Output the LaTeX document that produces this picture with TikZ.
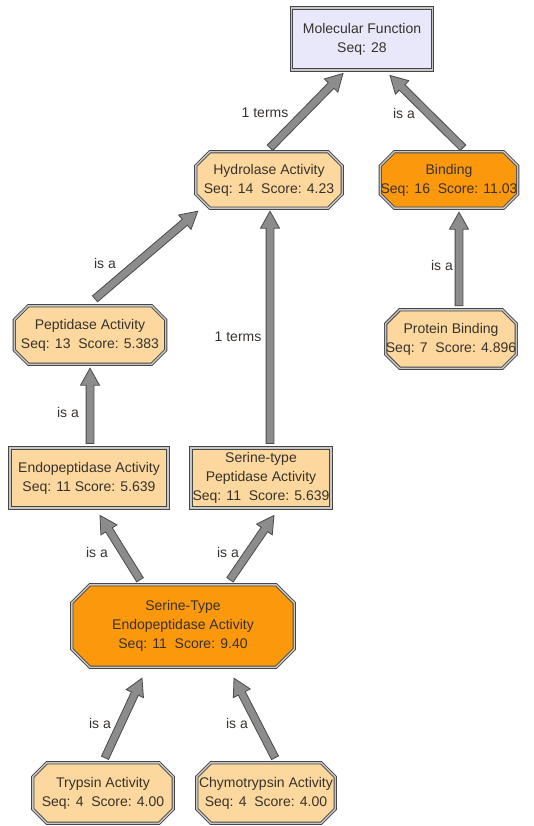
\documentclass[tikz,border=0pt]{standalone}
\usepackage{fontspec}
\setmainfont{Liberation Sans}
\usetikzlibrary{calc,backgrounds}
\definecolor{lightor}{RGB}{253,216,158}
\definecolor{darkor}{RGB}{252,152,12}
\definecolor{lav}{RGB}{232,232,250}
\definecolor{txt}{RGB}{55,50,45}
\definecolor{arrfill}{RGB}{140,140,140}
\definecolor{arrline}{RGB}{75,75,75}
\definecolor{bord}{RGB}{70,70,70}
\tikzset{
 frame/.style={draw=bord, line width=0.9pt, double=black!22, double distance=1.4pt},
 box/.style={frame, rectangle, inner sep=0pt, align=center, text=txt, font=\fontsize{14}{19}\selectfont},
 octbox/.style={rectangle, inner sep=0pt, align=center, text=txt, font=\fontsize{14}{19}\selectfont},
 lbl/.style={text=txt, font=\fontsize{14}{17}\selectfont, inner sep=0pt},
 grarrow/.style={fill=arrfill, draw=arrline, line width=0.8pt, line join=miter},
}
\newcommand\octa[3]{%
 \path[frame, fill=#3] ($(#1.north west)+(#2,0)$) -- ($(#1.north east)+(-#2,0)$) -- ($(#1.north east)+(0,#2)$) -- ($(#1.south east)+(0,-#2)$) -- ($(#1.south east)+(-#2,0)$) -- ($(#1.south west)+(#2,0)$) -- ($(#1.south west)+(0,-#2)$) -- ($(#1.north west)+(0,#2)$) -- cycle;}
\newcommand\garrow[2]{%
 \path #1 coordinate (ga) #2 coordinate (gb);
 \coordinate (gh) at ($(gb)!17pt!(ga)$);
 \path[grarrow] ($(ga)!3.9pt!90:(gb)$) -- ($(gh)!3.9pt!90:(gb)$) -- ($(gh)!9.5pt!90:(gb)$) -- (gb) -- ($(gh)!9.5pt!-90:(gb)$) -- ($(gh)!3.9pt!-90:(gb)$) -- ($(ga)!3.9pt!-90:(gb)$) -- cycle;}
\begin{document}
\begin{tikzpicture}[x=1pt,y=-1pt]
\useasboundingbox (0,0) rectangle (533,826);
% nodes
\node[box, fill=lav, minimum width=141, minimum height=62] (mf) at (362,39) {Molecular Function\\Seq: 28};
\node[octbox, minimum width=146, minimum height=56] (hyd) at (269,180) {Hydrolase Activity\\Seq: 14~~Score: 4.23};
\node[octbox, minimum width=130, minimum height=56] (bind) at (449,180) {Binding\\Seq: 16~~Score: 11.03};
\node[octbox, minimum width=151, minimum height=58] (pep) at (90,335) {Peptidase Activity\\Seq: 13~~Score: 5.383};
\node[octbox, minimum width=129, minimum height=58] (prot) at (451,339) {Protein Binding\\Seq: 7~~Score: 4.896};
\node[box, fill=lightor, minimum width=158, minimum height=60] (endo) at (89,478) {Endopeptidase Activity\\Seq: 11 Score: 5.639};
\node[box, fill=lightor, minimum width=140, minimum height=60] (stp) at (261,478) {Serine-type\\Peptidase Activity\\Seq: 11~~Score: 5.639};
\node[octbox, minimum width=222, minimum height=82] (ste) at (183,626) {Serine-Type\\Endopeptidase Activity\\Seq: 11~~Score: 9.40};
\node[octbox, minimum width=140, minimum height=60] (tryp) at (103,793) {Trypsin Activity\\Seq: 4~~Score: 4.00};
\node[octbox, minimum width=138, minimum height=60] (chymo) at (266,793) {Chymotrypsin Activity\\Seq: 4~~Score: 4.00};
\begin{pgfonlayer}{background}
\octa{hyd}{14}{lightor}
\octa{bind}{14}{darkor}
\octa{pep}{14}{lightor}
\octa{prot}{14}{lightor}
\octa{ste}{18}{darkor}
\octa{tryp}{14}{lightor}
\octa{chymo}{14}{lightor}
\end{pgfonlayer}
% connectors
\garrow{($(hyd.north)+(1,-4)$)}{($(mf.south)+(-19,3)$)}
\garrow{($(bind.north)+(14,-4)$)}{($(mf.south)+(28,5)$)}
\garrow{($(pep.north)+(5,-7)$)}{($(hyd.south west)+(2,3)$)}
\garrow{($(stp.north)+(9,-4)$)}{($(hyd.south)+(1,3)$)}
\garrow{($(prot.north)+(8,-4)$)}{($(bind.south)+(10,4)$)}
\garrow{($(endo.north)+(1,-4)$)}{($(pep.south)+(0,4)$)}
\garrow{($(ste.north)+(-43,-5)$)}{($(endo.south)+(11,7)$)}
\garrow{($(ste.north)+(47,-5)$)}{($(stp.south)+(13,7)$)}
\garrow{($(tryp.north)+(2,-5)$)}{($(ste.south)+(-41,11)$)}
\garrow{($(chymo.north)+(9,-5)$)}{($(ste.south)+(51,11)$)}
% labels
\node[lbl] (l1) at (265,113) {1 terms};
\node[lbl] (l2) at (404,113) {is a};
\node[lbl] (l3) at (105,263) {is a};
\node[lbl] (l4) at (238,337) {1 terms};
\node[lbl] (l5) at (442,265) {is a};
\node[lbl] (l6) at (68,412) {is a};
\node[lbl] (l7) at (97,552) {is a};
\node[lbl] (l8) at (228,552) {is a};
\node[lbl] (l9) at (100,723) {is a};
\node[lbl] (l10) at (237,723) {is a};
\end{tikzpicture}
\end{document}
